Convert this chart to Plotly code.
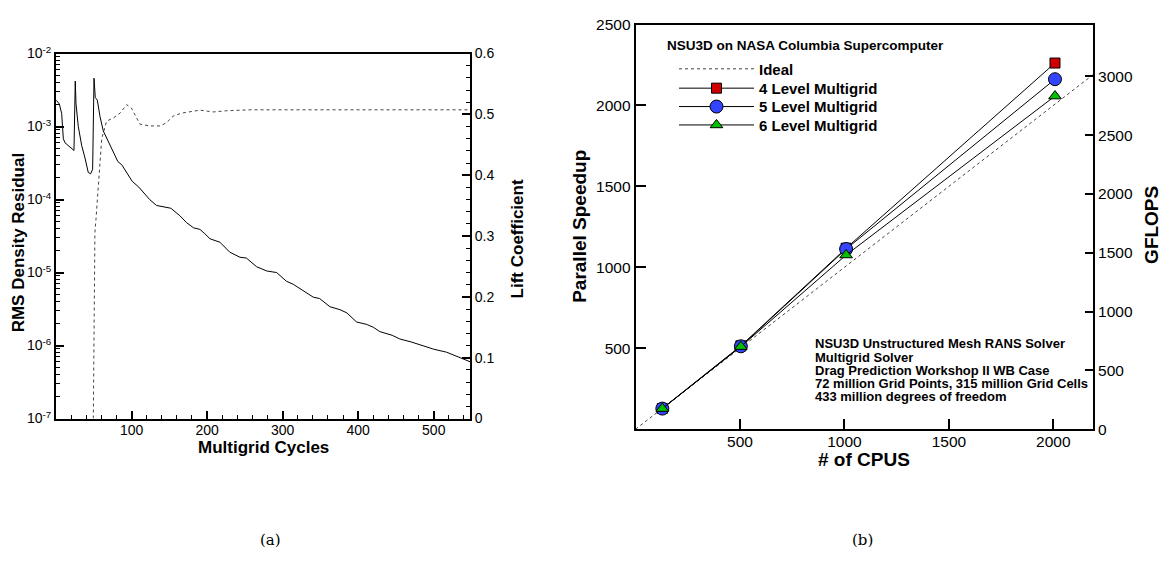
import plotly.graph_objects as go

W, H = 1166, 563

# ---------------- Panel (a) data ----------------
res_cycles = [0.5, 4.4, 7.5, 9.7, 11.9, 18, 23.8, 25.5, 26.5, 29.5, 34, 38.4, 42.7, 45.8, 48.5,
              50.3, 52, 54.7, 58.2, 62.6, 71.5, 76, 82, 87, 92.5, 100.8, 109.6, 118, 124, 133,
              146, 152, 164, 173, 182, 190.5, 197, 203.8, 217, 230, 243.5, 252, 265.6, 279, 292,
              305, 314, 327, 340.5, 349, 362.6, 375.8, 385, 397.9, 411, 420, 428.7, 445, 455,
              470, 485, 500, 517, 535, 548]
rms_residual = [2.29e-3, 2.04e-3, 1.51e-3, 6.8e-4, 6.0e-4, 5.25e-4, 4.7e-4, 4.2e-3, 2.04e-3, 1.0e-3,
                5.5e-4, 3.7e-4, 2.35e-4, 2.25e-4, 2.6e-4, 4.6e-3, 2.5e-3, 2.3e-3, 1.38e-3, 8.7e-4,
                5.5e-4, 4.5e-4, 3.3e-4, 3.0e-4, 2.45e-4, 1.78e-4, 1.48e-4, 1.2e-4, 1.0e-4, 8.3e-5,
                7.9e-5, 7.6e-5, 6.0e-5, 4.8e-5, 4.1e-5, 3.9e-5, 3.4e-5, 2.9e-5, 2.6e-5, 1.9e-5,
                1.62e-5, 1.58e-5, 1.2e-5, 1.05e-5, 1.0e-5, 7.6e-6, 6.9e-6, 5.6e-6, 4.6e-6, 4.4e-6,
                3.4e-6, 3.1e-6, 2.8e-6, 2.1e-6, 1.95e-6, 1.78e-6, 1.55e-6, 1.38e-6, 1.23e-6,
                1.12e-6, 1.0e-6, 8.9e-7, 8.1e-7, 6.9e-7, 6.0e-7]

cl_cycles = [49.4, 51.5, 52.9, 56, 60.5, 67, 75.8, 84.7, 93.5, 100, 111, 124, 137.6, 146, 155,
             166, 180, 190.5, 208, 226, 256.7, 548]
lift_coeff = [0.0, 0.306, 0.327, 0.385, 0.46, 0.489, 0.494, 0.502, 0.516, 0.51, 0.484, 0.481,
              0.481, 0.486, 0.497, 0.502, 0.505, 0.507, 0.504, 0.506, 0.5075, 0.5075]

# ---------------- Panel (b) data ----------------
cpus = [128, 504, 1008, 2008]
speedup_4lvl = [128, 515, 1118, 2262]
speedup_5lvl = [127, 512, 1113, 2162]
speedup_6lvl = [127, 510, 1076, 2058]
ideal_cpus = [0, 2200]
ideal_speedup = [0, 2200]

log_ticks = [1e-7, 1e-6, 1e-5, 1e-4, 1e-3, 1e-2]
log_ticktext = ["10<sup>-7</sup>", "10<sup>-6</sup>", "10<sup>-5</sup>", "10<sup>-4</sup>",
                "10<sup>-3</sup>", "10<sup>-2</sup>"]
log_minor = [k * 10.0 ** e for e in range(-7, -2) for k in range(2, 10)]
cycle_ticks = [100, 200, 300, 400, 500]
cpu_ticks = [500, 1000, 1500, 2000]
speedup_ticks = [500, 1000, 1500, 2000, 2500]
gflops_ticks = [0, 500, 1000, 1500, 2000, 2500, 3000]

info_lines = ["NSU3D Unstructured Mesh RANS Solver",
              "Multigrid Solver",
              "Drag Prediction Workshop II WB Case",
              "72 million Grid Points, 315 million Grid Cells",
              "433 million degrees of freedom"]

SANS = "Liberation Sans, Arial, Helvetica, sans-serif"
LINE = "black"


def px(x):
    return x / W


def py(y):
    return 1 - y / H


fig = go.Figure()

# panel (a)
fig.add_trace(go.Scatter(x=res_cycles, y=rms_residual, mode="lines", xaxis="x", yaxis="y",
                         line=dict(color="black", width=1), showlegend=False))
fig.add_trace(go.Scatter(x=cl_cycles, y=lift_coeff, mode="lines", xaxis="x", yaxis="y2",
                         line=dict(color="#444444", width=1, dash="dot"), showlegend=False))

# panel (b)
fig.add_trace(go.Scatter(x=ideal_cpus, y=ideal_speedup, mode="lines", xaxis="x2", yaxis="y3",
                         name="Ideal", legend="legend",
                         line=dict(color="#444444", width=1, dash="dot")))
fig.add_trace(go.Scatter(x=cpus, y=speedup_4lvl, mode="lines+markers", xaxis="x2", yaxis="y3",
                         name="4 Level Multigrid", legend="legend2",
                         line=dict(color="black", width=1),
                         marker=dict(symbol="square", size=10, color="#D00000",
                                     line=dict(color="black", width=1))))
fig.add_trace(go.Scatter(x=cpus, y=speedup_5lvl, mode="lines+markers", xaxis="x2", yaxis="y3",
                         name="5 Level Multigrid", legend="legend3",
                         line=dict(color="black", width=1),
                         marker=dict(symbol="circle", size=13, color="#3344FF",
                                     line=dict(color="black", width=1))))
fig.add_trace(go.Scatter(x=cpus, y=speedup_6lvl, mode="lines+markers", xaxis="x2", yaxis="y3",
                         name="6 Level Multigrid", legend="legend4",
                         line=dict(color="black", width=1),
                         marker=dict(symbol="triangle-up", size=11, color="#00C000",
                                     line=dict(color="black", width=1))))
# empty trace so the GFLOPS axis is drawn
fig.add_trace(go.Scatter(x=[], y=[], xaxis="x2", yaxis="y4", showlegend=False,
                         hoverinfo="skip"))

axis_common = dict(showline=True, linecolor=LINE, linewidth=2, ticks="inside",
                   tickcolor=LINE, showgrid=False, zeroline=False)

legend_font = dict(size=15, family=SANS, color="black", weight="bold")


def legend_at(ycenter):
    return dict(x=px(674), y=py(ycenter), xanchor="left", yanchor="middle",
                bgcolor="rgba(0,0,0,0)", borderwidth=0, itemwidth=75, font=legend_font)


fig.update_layout(
    width=W, height=H,
    margin=dict(l=0, r=0, t=0, b=0),
    paper_bgcolor="white", plot_bgcolor="white",
    font=dict(family=SANS, color="black"),
    xaxis=dict(domain=[px(56), px(470)], anchor="y", range=[0, 548], mirror=True,
               tickmode="array", tickvals=cycle_ticks, ticklen=8, tickwidth=1.5,
               tickfont=dict(size=14), ticklabelstandoff=-2,
               minor=dict(ticks="inside", ticklen=4, tickwidth=1, tick0=0, dtick=20,
                          tickcolor=LINE),
               **axis_common),
    yaxis=dict(domain=[py(422), py(45)], anchor="x", type="log", range=[-7, -2],
               tickmode="array", tickvals=log_ticks, ticktext=log_ticktext, ticklen=8,
               tickwidth=1.5, tickfont=dict(size=14),
               minor=dict(ticks="inside", ticklen=4, tickwidth=1, tickmode="array",
                          tickvals=log_minor, tickcolor=LINE),
               **axis_common),
    yaxis2=dict(overlaying="y", side="right", anchor="x", range=[0, 0.6],
                tickmode="linear", tick0=0, dtick=0.1, ticklen=8, tickwidth=1.5,
                tickfont=dict(size=14),
                minor=dict(ticks="inside", ticklen=4, tickwidth=1, tick0=0, dtick=0.02,
                           tickcolor=LINE),
                **axis_common),
    xaxis2=dict(domain=[px(635.6), px(1093)], anchor="y3", range=[0, 2190], mirror=True,
                tickmode="array", tickvals=cpu_ticks, ticklen=10, tickwidth=2,
                tickfont=dict(size=15.5), ticklabelstandoff=-3, **axis_common),
    yaxis3=dict(domain=[py(433), py(15)], anchor="x2", range=[0, 2500],
                tickmode="array", tickvals=speedup_ticks, ticklen=10, tickwidth=2,
                tickfont=dict(size=15.5), **axis_common),
    yaxis4=dict(overlaying="y3", side="right", anchor="x2", range=[0, 3440],
                tickmode="array", tickvals=gflops_ticks, ticklen=8, tickwidth=2,
                tickfont=dict(size=15.5), **axis_common),
    legend=legend_at(61),
    legend2=legend_at(81),
    legend3=legend_at(100),
    legend4=legend_at(119),
)

ann = []


def add_text(text, x, y, size, angle=0, xanchor="center", family=SANS, bold=True):
    ann.append(dict(text=text, x=px(x), y=py(y), xref="paper", yref="paper",
                    xanchor=xanchor, yanchor="middle", showarrow=False, textangle=angle,
                    font=dict(size=size, family=family, color="black",
                              weight="bold" if bold else "normal")))


add_text("RMS Density Residual", 18, 240, 17, angle=-90)
add_text("Multigrid Cycles", 263, 452, 17)
add_text("Lift Coefficient", 517, 237, 17, angle=-90)
add_text("Parallel Speedup", 580, 224, 19, angle=-90)
add_text("GFLOPS", 1152, 222, 19, angle=-90)
add_text("# of CPUS", 864, 464, 19)
add_text("NSU3D on NASA Columbia Supercomputer", 665, 37, 13.5, xanchor="left")
for i, line in enumerate(info_lines):
    add_text(line, 813, 345 + i * 13.5, 13, xanchor="left")
add_text("(a)", 270, 548, 15, family="DejaVu Serif, Liberation Serif, serif", bold=False)
add_text("(b)", 862, 548, 15, family="DejaVu Serif, Liberation Serif, serif", bold=False)

fig.update_layout(annotations=ann)

fig.write_html("out.html")
